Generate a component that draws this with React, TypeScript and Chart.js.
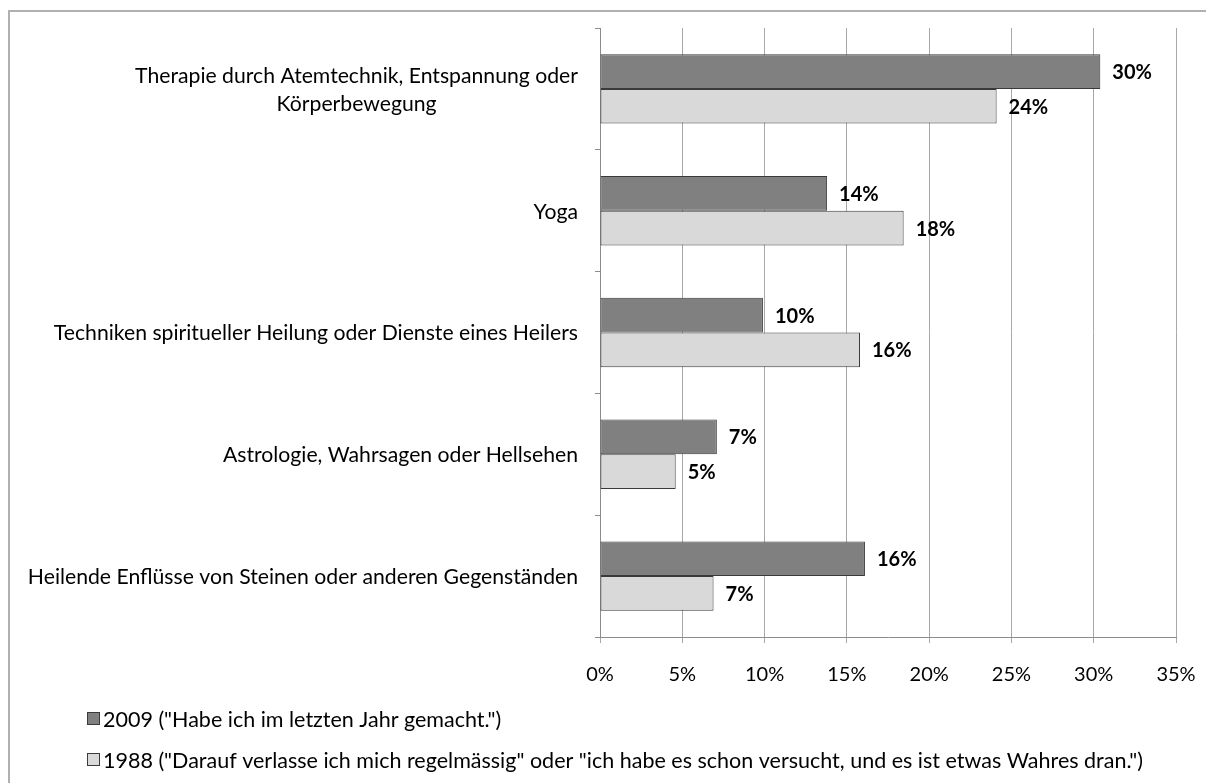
import React, { useEffect, useRef } from "react";
import { Chart, registerables } from "chart.js";

Chart.register(...registerables);

const categories: (string | string[])[] = [
  ["Therapie durch Atemtechnik, Entspannung oder", "Körperbewegung"],
  "Yoga",
  "Techniken spiritueller Heilung oder Dienste eines Heilers",
  "Astrologie, Wahrsagen oder Hellsehen",
  "Heilende Enflüsse von Steinen oder anderen Gegenständen",
];
const values2009 = [30.4, 13.8, 9.9, 7.1, 16.1];
const values1988 = [24.1, 18.45, 15.8, 4.6, 6.9];
const seriesNames = [
  '2009 ("Habe ich im letzten Jahr gemacht.")',
  '1988 ("Darauf verlasse ich mich regelmässig" oder "ich habe es schon versucht, und es ist etwas Wahres dran.")',
];
const xTicks = [0, 5, 10, 15, 20, 25, 30, 35];

const FONT = "Lato, 'Open Sans', sans-serif";
const COLORS = ["#808080", "#d9d9d9"];
const BORDER = "#3a3a3a";

const customPlugin = {
  id: "custom",
  beforeDraw(chart: any) {
    const ctx = chart.ctx;
    ctx.save();
    ctx.fillStyle = "#ffffff";
    ctx.fillRect(0, 0, chart.width, chart.height);
    ctx.strokeStyle = "#b0b0b0";
    ctx.lineWidth = 2;
    ctx.strokeRect(9, 11, chart.width + 20, chart.height + 20);
    ctx.restore();
  },
  afterDatasetsDraw(chart: any) {
    const ctx = chart.ctx;
    ctx.save();
    // data labels
    ctx.font = "bold 20px " + FONT;
    ctx.fillStyle = "#000";
    ctx.textBaseline = "middle";
    ctx.textAlign = "left";
    chart.data.datasets.forEach((ds: any, di: number) => {
      const meta = chart.getDatasetMeta(di);
      meta.data.forEach((el: any, i: number) => {
        ctx.fillText(Math.round(ds.data[i]) + "%", el.x + 12, el.y + 1);
      });
    });
    // category labels
    const yScale = chart.scales.y;
    ctx.font = "21.2px " + FONT;
    ctx.textAlign = "center";
    const lineH = 28;
    categories.forEach((c, i) => {
      const lines = Array.isArray(c) ? c : [c];
      const w = Math.max(...lines.map((l) => ctx.measureText(l).width));
      const cx = 578 - w / 2;
      const cy = yScale.getPixelForValue(i);
      const y0 = cy - ((lines.length - 1) * lineH) / 2;
      lines.forEach((l, k) => ctx.fillText(l, cx, y0 + k * lineH + 1));
    });
    // legend
    ctx.font = "21.5px " + FONT;
    ctx.textAlign = "left";
    const legendY = [719, 760];
    seriesNames.forEach((n, i) => {
      const y = legendY[i];
      ctx.fillStyle = COLORS[i];
      ctx.fillRect(87.5, y - 6.5, 12, 12);
      ctx.strokeStyle = BORDER;
      ctx.lineWidth = 1;
      ctx.strokeRect(87.5, y - 6.5, 12, 12);
      ctx.fillStyle = "#000";
      ctx.fillText(n, 103, y + 1);
    });
    ctx.restore();
  },
};

export default function App() {
  const ref = useRef<HTMLCanvasElement>(null);
  useEffect(() => {
    document.body.style.margin = "0";
    const chart = new Chart(ref.current!, {
      type: "bar",
      data: {
        labels: categories.map((c) => (Array.isArray(c) ? c.join(" ") : c)),
        datasets: [
          {
            label: seriesNames[0],
            data: values2009,
            backgroundColor: COLORS[0],
            borderColor: BORDER,
            borderWidth: 1,
            borderSkipped: false,
          },
          {
            label: seriesNames[1],
            data: values1988,
            backgroundColor: COLORS[1],
            borderColor: BORDER,
            borderWidth: 1,
            borderSkipped: false,
          },
        ],
      },
      options: {
        indexAxis: "y",
        animation: false,
        responsive: true,
        maintainAspectRatio: false,
        datasets: { bar: { categoryPercentage: 0.57, barPercentage: 1.0 } },
        layout: { padding: { top: 28, right: 30, left: 0, bottom: 0 } },
        plugins: { legend: { display: false }, tooltip: { enabled: false } },
        scales: {
          x: {
            min: 0,
            max: 35,
            afterFit: (s: any) => {
              s.height = 146;
              s.paddingRight = 0;
              s.paddingLeft = 0;
            },
            afterBuildTicks: (s: any) => {
              s.ticks = xTicks.map((v) => ({ value: v }));
            },
            ticks: {
              callback: (v: any) => v + "%",
              font: { family: FONT, size: 20 },
              color: "#000",
              padding: 20,
              maxRotation: 0,
            },
            grid: { color: "#a8a8a8", lineWidth: 1, tickLength: 6, drawTicks: true },
            border: { color: "#8c8c8c", width: 1 },
          },
          y: {
            afterFit: (s: any) => {
              s.width = 600;
              s.paddingTop = 0;
              s.paddingBottom = 0;
            },
            ticks: { display: false },
            grid: { drawOnChartArea: false, drawTicks: true, tickLength: 5, color: "#8c8c8c", offset: true },
            border: { color: "#8c8c8c", width: 1 },
          },
        },
      },
      plugins: [customPlugin],
    });
    return () => chart.destroy();
  }, []);
  return (
    <div style={{ width: 1206, height: 783, position: "relative" }}>
      <canvas ref={ref} />
    </div>
  );
}
